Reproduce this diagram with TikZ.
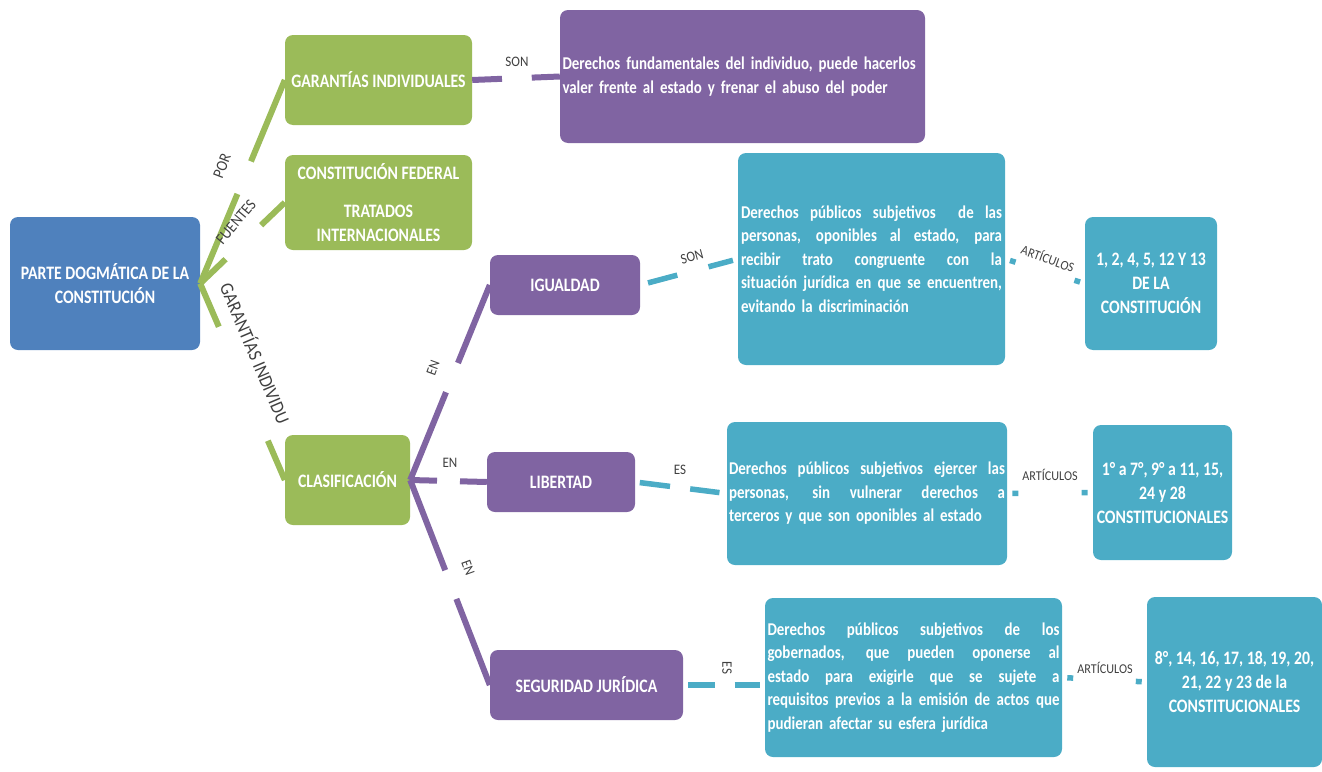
\documentclass[tikz,border=0pt]{standalone}
\usepackage{fontspec}
\setmainfont{Carlito}
\newfontfamily\bx{Carlito}[FakeStretch=0.83]
\newfontfamily\tx{Carlito}[FakeStretch=0.83]
\newfontfamily\lb{Carlito}[FakeStretch=0.9]
\usetikzlibrary{calc}
\definecolor{cblue}{HTML}{4F81BD}
\definecolor{cgreen}{HTML}{9BBB59}
\definecolor{cpurple}{HTML}{8064A2}
\definecolor{cteal}{HTML}{4BACC6}
\definecolor{labgray}{HTML}{404040}
\newcommand\jl[2]{\makebox[#1][s]{\spaceskip=0.22em plus 1fil\relax\xspaceskip=0.22em plus 1fil\relax #2}}
\newcommand\segs[7]{%
  \draw[#1] ($(#2)!#4!(#3)$) -- ($(#2)!#5!(#3)$);
  \draw[#1] ($(#2)!#6!(#3)$) -- ($(#2)!#7!(#3)$);}
\tikzset{
  box/.style={rounded corners=8pt, draw=none, text=white, inner sep=2pt, align=center,
    font=\bx\bfseries\fontsize{19}{24}\selectfont},
  bluebox/.style={box, fill=cblue},
  greenbox/.style={box, fill=cgreen},
  purplebox/.style={box, fill=cpurple},
  tealbox/.style={box, fill=cteal},
  bodytext/.style={align=left, font=\tx\bfseries\fontsize{18}{23.5}\selectfont},
  gline/.style={line width=6pt, draw=cgreen},
  pline/.style={line width=6pt, draw=cpurple},
  tline/.style={line width=5.5pt, draw=cteal},
  lab/.style={font=\lb\fontsize{14.5}{16}\selectfont, text=labgray, inner sep=1pt},
  biglab/.style={lab, font=\lb\fontsize{16}{18}\selectfont},
  artlab/.style={font=\lb\fontsize{13.5}{15}\selectfont, text=labgray, inner sep=1pt},
}
\begin{document}
\begin{tikzpicture}[x=1pt,y=-1pt]
\useasboundingbox (0,0) rectangle (1322,771);
% boxes
\node[bluebox, minimum width=190pt, minimum height=133pt] (pd) at (105,283.5)
  {PARTE DOGMÁTICA DE LA\\CONSTITUCIÓN};
\node[greenbox, minimum width=187pt, minimum height=90pt] (gi) at (378.5,80)
  {GARANTÍAS INDIVIDUALES};
\node[greenbox, minimum width=187pt, minimum height=95pt] (cf) at (378.5,202.5)
  {CONSTITUCIÓN FEDERAL\\[14pt]TRATADOS\\INTERNACIONALES};
\node[greenbox, minimum width=125pt, minimum height=90pt] (cl) at (347.5,480)
  {CLASIFICACIÓN};
\node[purplebox, bodytext, text width=360pt, inner xsep=2.5pt, minimum height=133pt] (dfi) at (742.5,76.5)
  {Derechos fundamentales del individuo, puede hacerlos\\valer frente al estado y frenar el abuso del poder};
\node[purplebox, minimum width=150pt, minimum height=60pt] (ig) at (565,285) {IGUALDAD};
\node[purplebox, minimum width=148pt, minimum height=60pt] (li) at (561,482) {LIBERTAD};
\node[purplebox, minimum width=193pt, minimum height=70pt] (sj) at (586.5,685) {SEGURIDAD JURÍDICA};
\node[tealbox, bodytext, text width=261pt, inner xsep=3pt, minimum height=212pt] (t1) at (871.5,259)
  {\jl{261pt}{Derechos públicos subjetivos \ de las}\\
   \jl{261pt}{personas, oponibles al estado, para}\\
   \jl{261pt}{recibir trato congruente con la}\\
   \jl{261pt}{situación jurídica en que se encuentren,}\\
   evitando la discriminación};
\node[tealbox, minimum width=132pt, minimum height=133pt] (a1) at (1151,283.5)
  {1, 2, 4, 5, 12 Y 13\\DE LA\\CONSTITUCIÓN};
\node[tealbox, bodytext, text width=276pt, inner xsep=2pt, minimum height=143pt] (t2) at (867,493.5)
  {\jl{276pt}{Derechos públicos subjetivos ejercer las}\\
   \jl{276pt}{personas, sin vulnerar derechos a}\\
   terceros y que son oponibles al estado};
\node[tealbox, minimum width=139pt, minimum height=135pt] (a2) at (1162.5,492.5)
  {1° a 7°, 9° a 11, 15,\\24 y 28\\CONSTITUCIONALES};
\node[tealbox, bodytext, text width=292pt, inner xsep=2.5pt, minimum height=159pt] (t3) at (913.5,677.5)
  {\jl{292pt}{Derechos públicos subjetivos de los}\\
   \jl{292pt}{gobernados, que pueden oponerse al}\\
   \jl{292pt}{estado para exigirle que se sujete a}\\
   \jl{292pt}{requisitos previos a la emisión de actos que}\\
   pudieran afectar su esfera jurídica};
\node[tealbox, minimum width=175pt, minimum height=170pt] (a3) at (1234.5,682)
  {8°, 14, 16, 17, 18, 19, 20,\\21, 22 y 23 de la\\CONSTITUCIONALES};
\coordinate (t3in) at (sj.east -| t3.west);
% green connectors
\segs{gline}{pd.east}{gi.west}{0}{0.44}{0.6}{1}
\segs{gline}{pd.east}{cf.west}{0}{0.3}{0.72}{1}
\segs{gline}{pd.east}{cl.west}{0}{0.22}{0.8}{1}
\node[biglab, rotate=69] (lpor) at (222,166) {POR};
\node[biglab, rotate=50] (lfu) at (236,222) {FUENTES};
\node[lab, font=\lb\fontsize{19}{21}\selectfont, rotate=-67] (lgi) at (256,353) {GARANTÍAS INDIVIDU};
% purple connectors
\segs{pline}{gi.east}{dfi.west}{0}{0.34}{0.68}{1}
\node[lab] (lson1) at (517,62) {SON};
\segs{pline}{cl.east}{ig.west}{0}{0.45}{0.6}{1}
\segs{pline}{cl.east}{li.west}{0}{0.35}{0.65}{1}
\segs{pline}{cl.east}{sj.west}{0}{0.44}{0.58}{1}
\node[lab, rotate=70] (len1) at (433,368) {EN};
\node[lab] (len2) at (450,463) {EN};
\node[lab, rotate=-70] (len3) at (468,568) {EN};
% teal connectors
\segs{tline}{ig.east}{t1.west}{0.08}{0.38}{0.7}{0.95}
\node[lab, rotate=15] (lson2) at (692,257) {SON};
\segs{tline}{li.east}{t2.west}{0.05}{0.38}{0.6}{0.92}
\node[lab] (les1) at (680,470) {ES};
\segs{tline}{sj.east}{t3in}{0.06}{0.39}{0.63}{0.94}
\node[lab, rotate=-90] (les2) at (727,668) {ES};
\segs{tline}{t1.east}{a1.west}{0.06}{0.13}{0.87}{0.94}
\node[artlab, rotate=-20] (lart1) at (1048,258) {ARTÍCULOS};
\segs{tline}{t2.east}{a2.west}{0.06}{0.13}{0.87}{0.94}
\node[artlab] (lart2) at (1050,475) {ARTÍCULOS};
\segs{tline}{t3.east}{a3.west}{0.06}{0.13}{0.87}{0.94}
\node[artlab] (lart3) at (1105,668) {ARTÍCULOS};
\end{tikzpicture}
\end{document}
